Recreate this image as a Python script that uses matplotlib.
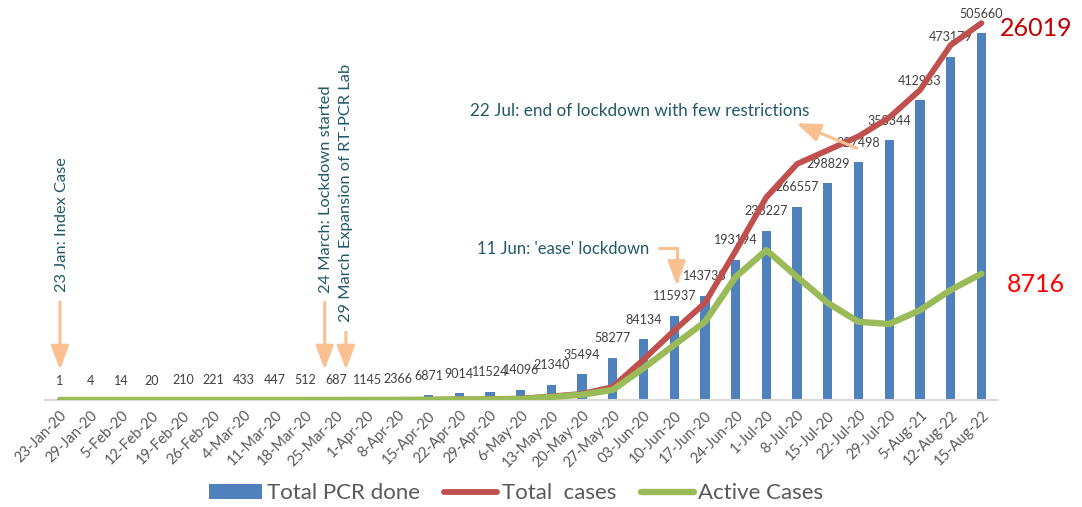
import matplotlib
matplotlib.use("Agg")
import matplotlib.pyplot as plt
import numpy as np

plt.rcParams['font.family'] = ['Lato', 'DejaVu Sans']

# dados do grafico
dates = ["23-Jan-20", "29-Jan-20", "5-Feb-20", "12-Feb-20", "19-Feb-20", "26-Feb-20",
         "4-Mar-20", "11-Mar-20", "18-Mar-20", "25-Mar-20", "1-Apr-20", "8-Apr-20",
         "15-Apr-20", "22-Apr-20", "29-Apr-20", "6-May-20", "13-May-20", "20-May-20",
         "27-May-20", "03-Jun-20", "10-Jun-20", "17-Jun-20", "24-Jun-20", "1-Jul-20",
         "8-Jul-20", "15-Jul-20", "22-Jul-20", "29-Jul-20", "5-Aug-21", "12-Aug-22",
         "15-Aug-22"]
pcr_done = [1, 4, 14, 20, 210, 221, 433, 447, 512, 687, 1145, 2366, 6871, 9014, 11524,
            14096, 21340, 35494, 58277, 84134, 115937, 143738, 193194, 233227, 266557,
            298829, 327498, 358344, 412953, 473179, 505660]
total_cases = [1, 1, 1, 1, 1, 1, 1, 1, 1, 3, 5, 9, 16, 45, 57, 99, 250, 430, 900,
               2800, 4800, 6700, 10300, 14000, 16300, 17250, 18200, 19500, 21400,
               24500, 26019]
active_cases = [1, 1, 1, 1, 1, 1, 1, 1, 1, 3, 5, 8, 15, 40, 40, 70, 210, 370, 700,
                2200, 3800, 5400, 8500, 10350, 8500, 6700, 5400, 5250, 6200, 7600, 8716]

teal = '#215968'
orange = '#FAC090'

x = np.arange(len(dates))

fig = plt.figure(figsize=(10.82, 5.07), dpi=100)
ax = fig.add_axes([0.0412, 0.211, 0.880, 0.769])

# barras de PCR
bars = ax.bar(x, pcr_done, width=0.3, color='#4F81BD', zorder=2, label='Total PCR done')
for xi, v in zip(x, pcr_done):
    ax.annotate(str(v), (xi, v), xytext=(0, 14), textcoords='offset points',
                ha='center', va='center', fontsize=9, color='#404040')

ax.set_xlim(-0.5, len(dates) - 0.5)
ax.set_ylim(0, 537350)
ax.set_yticks([])
ax.set_xticks(x)
ax.set_xticklabels(dates, rotation=45, ha='right', rotation_mode='anchor',
                   fontsize=10.5, color='#595959')
ax.tick_params(axis='x', length=0, pad=6)
for s in ['top', 'left', 'right']:
    ax.spines[s].set_visible(False)
ax.spines['bottom'].set_color('#D9D9D9')
ax.spines['bottom'].set_linewidth(1.5)

# linhas de casos
ax2 = ax.twinx()
l1, = ax2.plot(x, total_cases, color='#C0504D', lw=4.2, solid_capstyle='round',
               solid_joinstyle='round', label='Total  cases')
l2, = ax2.plot(x, active_cases, color='#9BBB59', lw=4.6, solid_capstyle='round',
               solid_joinstyle='round', label='Active Cases')
ax2.set_ylim(0, 26916)
ax2.set_yticks([])
for s in ax2.spines.values():
    s.set_visible(False)

# valores finais
ax2.annotate(str(total_cases[-1]), (x[-1], total_cases[-1]), xytext=(13, -4),
             textcoords='offset points', ha='left', va='center', fontsize=18, color='#C00000')
ax2.annotate(str(active_cases[-1]), (x[-1], active_cases[-1]), xytext=(39, -8),
             textcoords='offset points', ha='center', va='center', fontsize=18, color='#FF0000')

# anotacoes de eventos
arrow = dict(arrowstyle='-|>,head_width=0.32,head_length=0.85', lw=2.2, color=orange,
             mutation_scale=17, shrinkA=0, shrinkB=0)
frac = ('data', 'axes fraction')

ax2.annotate('', xy=(0, 0.078), xytext=(0, 0.251), xycoords=frac, textcoords=frac, arrowprops=arrow)
ax2.text(0.07, 0.277, '23 Jan: Index Case', rotation=90, ha='center', va='bottom',
         fontsize=11.8, color=teal, transform=ax2.get_xaxis_transform())

ax2.annotate('', xy=(8.62, 0.078), xytext=(8.62, 0.251), xycoords=frac, textcoords=frac, arrowprops=arrow)
ax2.text(8.66, 0.274, '24 March: Lockdown started', rotation=90, ha='center', va='bottom',
         fontsize=11.8, color=teal, transform=ax2.get_xaxis_transform())

ax2.annotate('', xy=(9.31, 0.078), xytext=(9.31, 0.174), xycoords=frac, textcoords=frac, arrowprops=arrow)
ax2.text(9.3, 0.200, '29 March Expansion of RT-PCR Lab', rotation=90, ha='center', va='bottom',
         fontsize=11.8, color=teal, transform=ax2.get_xaxis_transform())

ax2.annotate('', xy=(20.08, 0.295), xytext=(19.49, 0.390), xycoords=frac, textcoords=frac,
             arrowprops=dict(arrow, connectionstyle='angle,angleA=0,angleB=90,rad=0'))
ax2.text(19.2, 0.387, "11 Jun: 'ease' lockdown", ha='right', va='center',
         fontsize=12, color=teal, transform=ax2.get_xaxis_transform())

ax2.annotate('', xy=(23.98, 0.710), xytext=(25.94, 0.646), xycoords=frac, textcoords=frac, arrowprops=arrow)
ax2.text(13.34, 0.741, '22 Jul: end of lockdown with few restrictions', ha='left', va='center',
         fontsize=12.3, color=teal, transform=ax2.get_xaxis_transform())

# legenda
fig.legend(handles=[bars, l1, l2], loc='center', bbox_to_anchor=(0.477, 0.027), ncol=3,
           frameon=False, fontsize=16, labelcolor='#595959', handlelength=2.4,
           handletextpad=0.2, columnspacing=1.1)

fig.savefig('out.png', dpi=100)
